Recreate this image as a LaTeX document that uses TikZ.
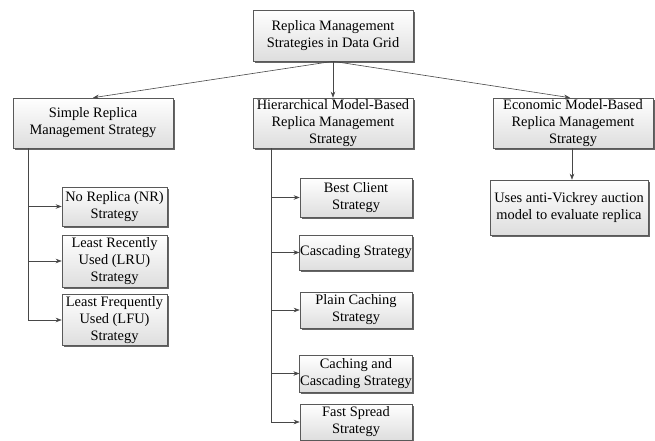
\documentclass[tikz,border=0pt]{standalone}
\usepackage{fontspec}
\setmainfont{Liberation Serif}
\usetikzlibrary{shadows,arrows.meta,calc}
\begin{document}
\begin{tikzpicture}[x=1pt,y=-1pt,
  box/.style={draw=black!65, line width=0.6pt, top color=white, bottom color=black!13,
    drop shadow={shadow xshift=1.5pt, shadow yshift=-1.5pt, fill=black!60, opacity=1},
    align=center, inner xsep=0.5pt, inner ysep=1pt,
    font=\fontsize{14.4}{17}\selectfont},
  conn/.style={draw=black!72, line width=0.6pt, -{Stealth[length=6pt,width=4.5pt]}}]
\useasboundingbox[fill=white] (0,0) rectangle (655,440);
\node[box, minimum width=160pt, minimum height=51pt] (top) at (333,35.5) {Replica Management\\Strategies in Data Grid};
\node[box, minimum width=160pt, minimum height=50pt] (simple) at (93,123) {Simple Replica\\Management Strategy};
\node[box, minimum width=160pt, minimum height=50pt] (hier) at (333,123) {Hierarchical Model-Based\\Replica Management\\Strategy};
\node[box, minimum width=160pt, minimum height=50pt] (econ) at (573,123) {Economic Model-Based\\Replica Management\\Strategy};
\node[box, minimum width=158pt, minimum height=55pt] (uses) at (569,207.5) {Uses anti-Vickrey auction\\model to evaluate replica};
\node[box, minimum width=105pt, minimum height=39pt] (nr) at (114.5,206.5) {No Replica (NR)\\Strategy};
\node[box, minimum width=105pt, minimum height=52pt] (lru) at (114.5,261) {Least Recently\\Used (LRU)\\Strategy};
\node[box, minimum width=105pt, minimum height=51pt] (lfu) at (114.5,320) {Least Frequently\\Used (LFU)\\Strategy};
\node[box, minimum width=112pt, minimum height=39pt] (bc) at (356,197.5) {Best Client\\Strategy};
\node[box, minimum width=112pt, minimum height=35pt] (cs) at (356,252.5) {Cascading Strategy};
\node[box, minimum width=112pt, minimum height=36pt] (pc) at (356,310) {Plain Caching\\Strategy};
\node[box, minimum width=112pt, minimum height=37pt] (ccs) at (356,373.5) {Caching and\\Cascading Strategy};
\node[box, minimum width=112pt, minimum height=36pt] (fs) at (356,422) {Fast Spread\\Strategy};
\coordinate (et) at ($(econ.north)+(-3,0)$);
\coordinate (es) at ($(econ.south)+(-1,0)$);
\draw[conn] (top.south) -- (simple.north);
\draw[conn] (top.south) -- (hier.north);
\draw[conn] (top.south) -- (et);
\draw[conn] (es) -- (es |- uses.north);
\coordinate (ss) at ($(simple.south west)+(16,0)$);
\foreach \n in {nr,lru,lfu} \draw[conn] (ss) |- (\n.west);
\coordinate (hs) at ($(hier.south west)+(19,0)$);
\foreach \n in {bc,cs,pc,ccs,fs} \draw[conn] (hs) |- (\n.west);
\end{tikzpicture}
\end{document}
